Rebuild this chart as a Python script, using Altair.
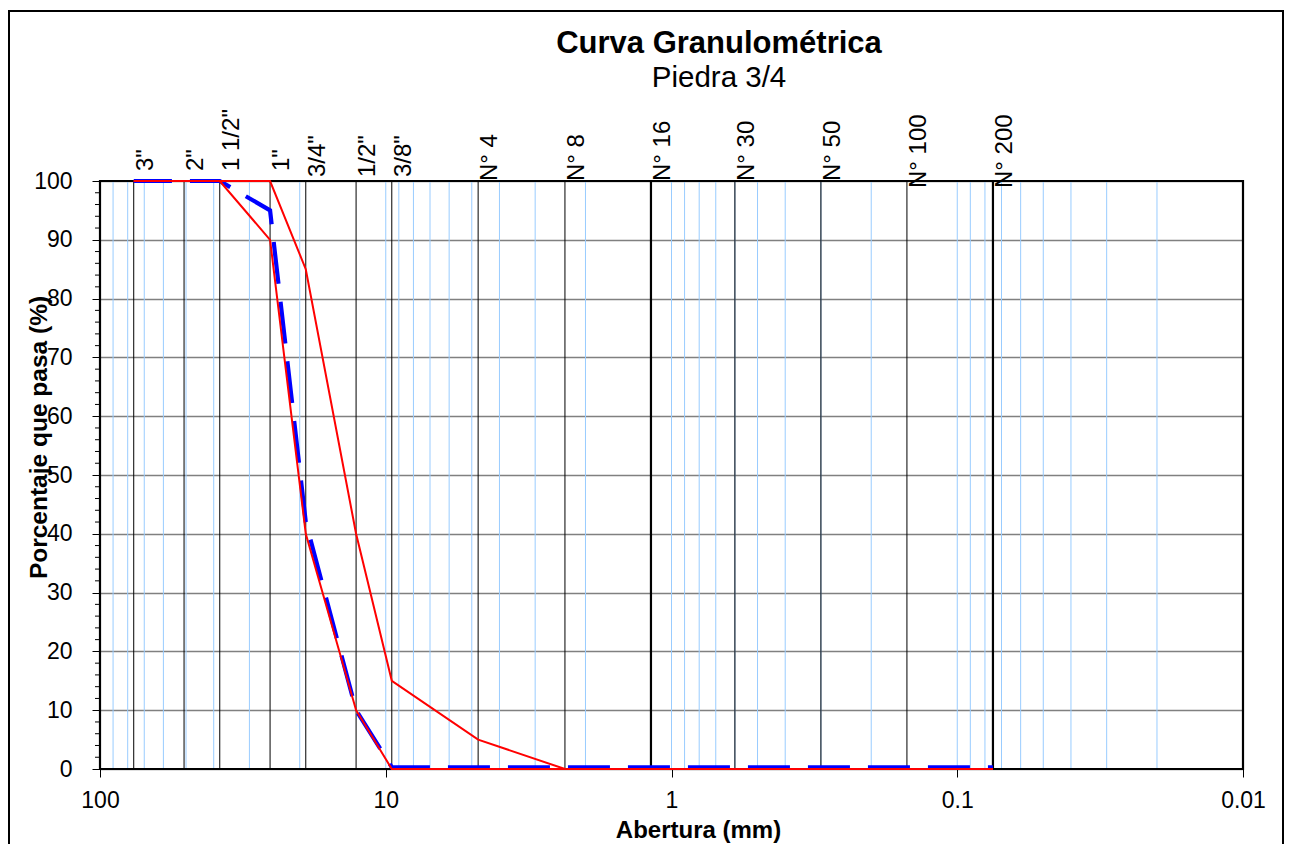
import altair as alt
import pandas as pd

# ---- data ----
sieve_names = ['3"', '2"', '1 1/2"', '1"', '3/4"', '1/2"', '3/8"',
               'N° 4', 'N° 8', 'N° 16', 'N° 30', 'N° 50', 'N° 100', 'N° 200']
sieve_mm = [76.2, 50.8, 38.1, 25.4, 19.05, 12.7, 9.525,
            4.75, 2.36, 1.18, 0.6, 0.3, 0.15, 0.075]
muestra = [100, 100, 100, 95, 42, 10, 0.3, 0.3, 0.3, 0.3, 0.3, 0.3, 0.3, 0.3]
limite_superior = [100, 100, 100, 100, 85, 40, 15, 5, 0, 0, 0, 0, 0, 0]
limite_inferior = [100, 100, 100, 90, 40, 10, 0, 0, 0, 0, 0, 0, 0, 0]

x_tick_values = [100, 10, 1, 0.1, 0.01]
y_tick_values = [0, 10, 20, 30, 40, 50, 60, 70, 80, 90, 100]
y_minor_ticks = [v for v in range(2, 100, 2) if v % 10 != 0]
log_grid = [m * d for d in (10, 1, 0.1, 0.01) for m in range(1, 10) if 0.01 < m * d < 100]

title_text = "Curva Granulométrica"
subtitle_text = "Piedra 3/4"

FONT = "Liberation Sans"
W, H = 1143, 588

xs = alt.Scale(type="log", domain=[0.01, 100], reverse=True, nice=False)
ys = alt.Scale(domain=[0, 100], nice=False)

sieves = pd.DataFrame({"name": sieve_names, "size": sieve_mm})
curves = pd.concat([
    pd.DataFrame({"size": sieve_mm, "pct": muestra, "serie": "Muestra"}),
    pd.DataFrame({"size": sieve_mm, "pct": limite_superior, "serie": "Límite superior"}),
    pd.DataFrame({"size": sieve_mm, "pct": limite_inferior, "serie": "Límite inferior"}),
])

x_axis = alt.Axis(values=x_tick_values, format="~g", title="Abertura (mm)",
                  grid=False, domain=False, tickColor="black", tickSize=8, tickWidth=1,
                  labelFontSize=23, labelColor="black", labelPadding=12, labelFlush=False,
                  labelOverlap=False, labelFont=FONT,
                  titleFont=FONT, titleFontSize=24, titleFontWeight="bold", titleColor="black",
                  titleX=598, titleY=68, titleBaseline="alphabetic", titleAlign="center")
y_axis = alt.Axis(values=y_tick_values, title="Porcentaje que pasa (%)",
                  grid=True, gridColor="#808080", gridWidth=1.5, domain=False,
                  tickColor="black", tickSize=8, tickWidth=1,
                  labelFontSize=23, labelColor="black", labelPadding=20, labelFont=FONT,
                  titleFont=FONT, titleFontSize=24.5, titleFontWeight="bold", titleColor="black",
                  titleAngle=270, titleX=-54, titleY=256, titleAlign="center",
                  titleBaseline="alphabetic")


def X(field):
    return alt.X(field, scale=xs, axis=x_axis)


def Y(field=None, datum=None):
    if datum is not None:
        return alt.Y(datum=datum, scale=ys, axis=y_axis)
    return alt.Y(field, scale=ys, axis=y_axis)


# light blue logarithmic grid
grid_layer = alt.Chart(pd.DataFrame({"size": log_grid})).mark_rule(
    color="#99CCFF", strokeWidth=1).encode(
    x=X("size:Q"), y=Y(datum=0), y2=alt.Y2(datum=100),
)

# sieve lines
sieve_rules = alt.Chart(sieves).mark_rule(color="black", strokeWidth=1).encode(
    x=X("size:Q"), y=Y(datum=0), y2=alt.Y2(datum=100),
)
thick_rules = alt.Chart(sieves).transform_filter(
    alt.FieldOneOfPredicate(field="name", oneOf=["N° 16", "N° 200"])
).mark_rule(color="black", strokeWidth=2.2).encode(
    x=X("size:Q"), y=Y(datum=0), y2=alt.Y2(datum=100),
)

# plot-area frame (black, drawn over the grid, under the curves)
plot_frame = alt.Chart(pd.DataFrame({"f": [1]})).mark_rect(
    filled=False, stroke="black", strokeWidth=2.2).encode(
    x=alt.value(0), x2=alt.value(W), y=alt.value(0), y2=alt.value(H))

# minor ticks on y axis
minor_ticks = alt.Chart(pd.DataFrame({"pct": y_minor_ticks})).mark_rule(
    color="black", strokeWidth=1).encode(
    y=Y("pct:Q"), x=alt.value(-5), x2=alt.value(0),
)

blue = alt.Chart(curves).transform_filter(alt.datum.serie == "Muestra").mark_line(
    color="#0000FF", strokeWidth=4.2, strokeDash=[42, 18], strokeDashOffset=37,
    strokeCap="butt").encode(
    x=X("size:Q"), y=Y("pct:Q"), order="size:Q",
)
red = alt.Chart(curves).transform_filter(alt.datum.serie != "Muestra").mark_line(
    color="#FF0000", strokeWidth=2).encode(
    x=X("size:Q"), y=Y("pct:Q"), detail="serie:N", order="size:Q",
)

# sieve labels above the plot
label_groups = [
    (['3"', '2"', '1 1/2"', '1"'], -10),
    (['3/4"', '1/2"', '3/8"'], -4),
    (['N° 4', 'N° 8', 'N° 16', 'N° 30', 'N° 50'], 0),
    (['N° 100', 'N° 200'], 7),
]
label_layers = []
for names, yoff in label_groups:
    label_layers.append(
        alt.Chart(sieves).transform_filter(
            alt.FieldOneOfPredicate(field="name", oneOf=names)
        ).mark_text(angle=270, align="left", baseline="top", fontSize=24,
                    font=FONT, color="black").encode(
            x=X("size:Q"), y=alt.value(yoff), text="name:N",
        )
    )

title_mark = alt.Chart(pd.DataFrame({"t": [title_text]})).mark_text(
    fontSize=31, fontWeight="bold", font=FONT, color="black",
    align="center", baseline="alphabetic").encode(
    text="t:N", x=alt.value(619), y=alt.value(-128))
subtitle_mark = alt.Chart(pd.DataFrame({"t": [subtitle_text]})).mark_text(
    fontSize=29.5, font=FONT, color="black",
    align="center", baseline="alphabetic").encode(
    text="t:N", x=alt.value(619), y=alt.value(-94))

frame = alt.Chart(pd.DataFrame({"f": [1]})).mark_rect(
    filled=False, stroke="black", strokeWidth=2).encode(
    x=alt.value(-91), x2=alt.value(1183), y=alt.value(-170), y2=alt.value(720))

chart = alt.layer(
    grid_layer, sieve_rules, thick_rules, plot_frame, blue, red, minor_ticks,
    *label_layers, title_mark, subtitle_mark, frame
).properties(
    width=W, height=H,
    autosize=alt.AutoSizeParams(type="none"),
    padding={"left": 92, "top": 173, "right": 41, "bottom": 75},
).configure(
    font=FONT, background="white"
).configure_view(
    stroke="black", strokeWidth=2
)

chart.save("out.html", embed_options={"renderer": "svg", "actions": False})
